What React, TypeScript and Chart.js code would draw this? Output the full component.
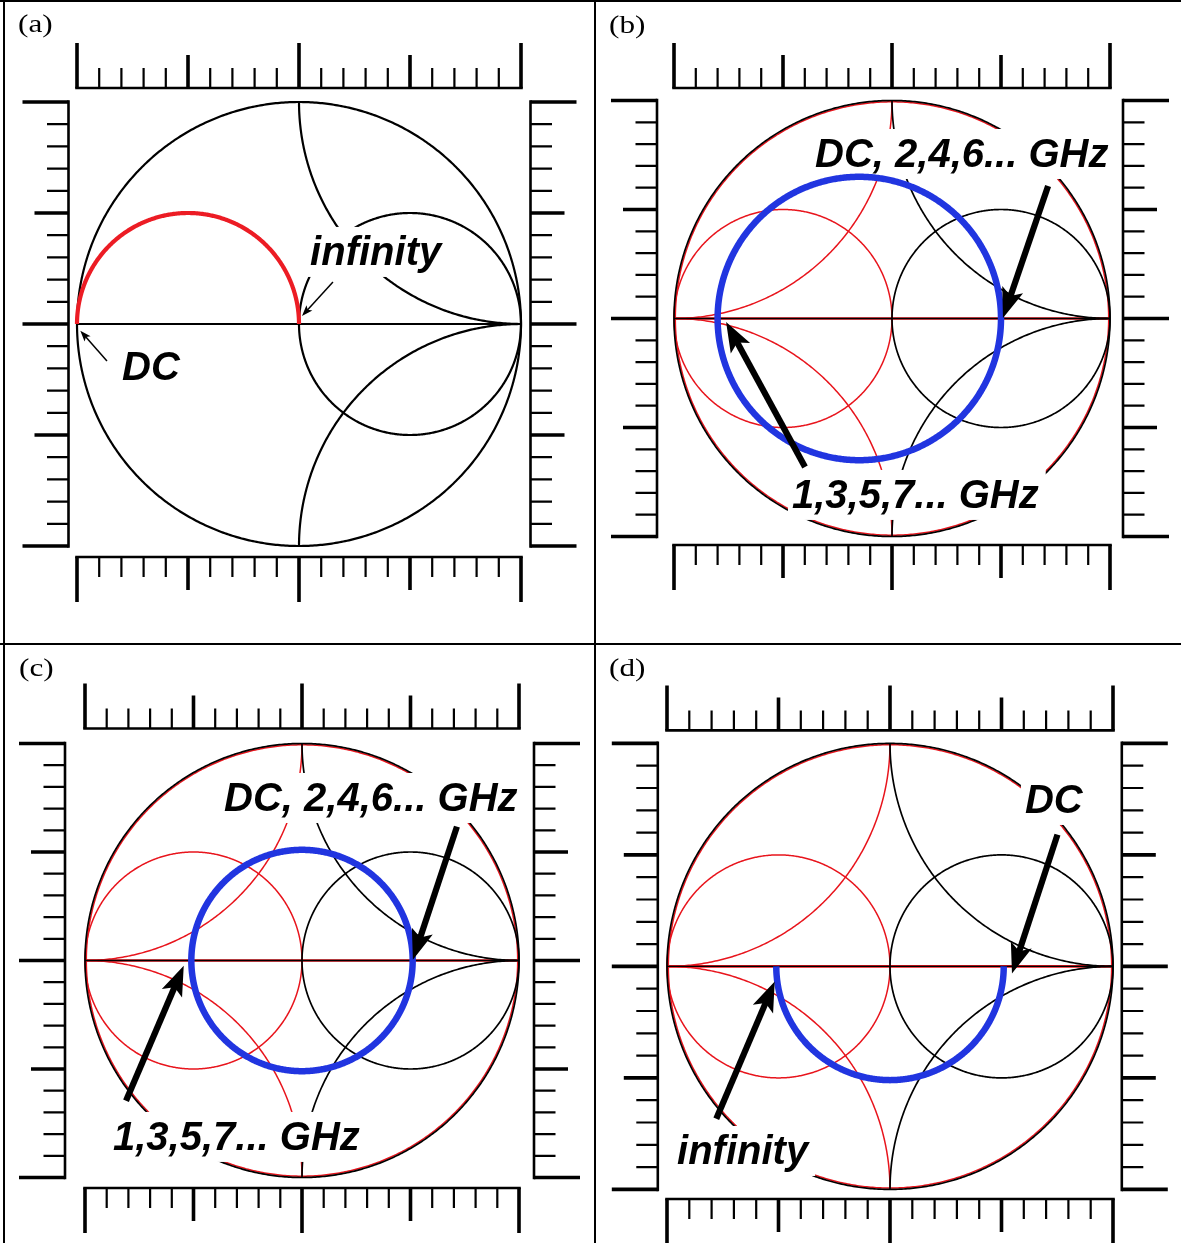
import React, { useEffect, useRef } from 'react';
import { Chart, registerables } from 'chart.js';

Chart.register(...registerables);

const PAGE_W = 1181;
const PAGE_H = 1243;

// Ruler tick values (reflection-coefficient units)
const TICK_VALUES = [-1, -0.9, -0.8, -0.7, -0.6, -0.5, -0.4, -0.3, -0.2, -0.1, 0, 0.1, 0.2, 0.3, 0.4, 0.5, 0.6, 0.7, 0.8, 0.9, 1];
const LONG_TICKS = [-1, 0, 1];
const MID_TICKS = [-0.5, 0.5];

// Smith chart circles: [centerX, centerY, radius, startDeg, endDeg]
const IMPEDANCE_GRID = [
  [0, 0, 1, 0, 360],
  [0.5, 0, 0.5, 0, 360],
  [1, 1, 1, 180, 270],
  [1, -1, 1, 90, 180],
];
const ADMITTANCE_GRID = [
  [0, 0, 0.994, 0, 360],
  [-0.5, 0, 0.5, 0, 360],
  [-1, 1, 1, 270, 360],
  [-1, -1, 1, 0, 90],
];
const REAL_AXIS = [-1, 1];

// Measured traces
const TRACE_A = [-0.5, 0, 0.5, 0, 180];
const TRACE_B = [-0.15, 0, 0.65, 0, 360];
const TRACE_C = [0, 0, 0.51, 0, 360];
const TRACE_D = [0, 0, 0.51, 180, 360];

// Annotation texts: [text, left x, baseline y]
const TEXT_A = [['DC', -0.797, -0.252], ['infinity', 0.05, 0.266]];
const TEXT_B = [['DC, 2,4,6... GHz', -0.353, 0.695], ['1,3,5,7... GHz', -0.459, -0.869]];
const TEXT_C = [['DC, 2,4,6... GHz', -0.359, 0.689], ['1,3,5,7... GHz', -0.871, -0.873]];
const TEXT_D = [['DC', 0.605, 0.688], ['infinity', -0.955, -0.886]];

// Arrows: [tailX, tailY, tipX, tipY]
const ARROWS_A = [[-0.865, -0.167, -0.985, -0.03], [0.153, 0.189, 0.0135, 0.036]];
const ARROWS_B = [[0.716, 0.608, 0.509, 0.002], [-0.399, -0.681, -0.761, -0.016]];
const ARROWS_C = [[0.714, 0.617, 0.511, 0.004], [-0.811, -0.646, -0.545, -0.024]];
const ARROWS_D = [[0.751, 0.591, 0.547, -0.032], [-0.779, -0.683, -0.517, -0.068]];

const PANEL_LABELS = ['(a)', '(b)', '(c)', '(d)'];

type Panel = {
  label: string;
  labelPos: [number, number];
  canvas: [number, number, number, number];
  center: [number, number];
  radius: number;
  gaps: { top: number; bottom: number; left: number; right: number };
  admittance: boolean;
  trace: number[];
  traceColor: string;
  traceWidth: number;
  texts: any[];
  arrows: number[][];
  thinArrows: boolean;
  gridWidth: number;
};

const PANELS: Panel[] = [
  {
    label: PANEL_LABELS[0], labelPos: [18, 32], canvas: [0, 0, 594, 643], center: [299, 324], radius: 222,
    gaps: { top: 14, bottom: 11, left: 8.5, right: 9.5 }, admittance: false, trace: TRACE_A,
    traceColor: '#ec1c24', traceWidth: 4.2, texts: TEXT_A, arrows: ARROWS_A, thinArrows: true, gridWidth: 2.2,
  },
  {
    label: PANEL_LABELS[1], labelPos: [609, 32.5], canvas: [596, 0, 585, 643], center: [892, 318.5], radius: 218,
    gaps: { top: 12.5, bottom: 8.5, left: 17, right: 13 }, admittance: true, trace: TRACE_B,
    traceColor: '#2135e0', traceWidth: 6.5, texts: TEXT_B, arrows: ARROWS_B, thinArrows: false, gridWidth: 1.7,
  },
  {
    label: PANEL_LABELS[2], labelPos: [19, 675.5], canvas: [0, 645, 594, 598], center: [302, 960.5], radius: 217,
    gaps: { top: 15, bottom: 10.5, left: 20, right: 15 }, admittance: true, trace: TRACE_C,
    traceColor: '#2135e0', traceWidth: 6.5, texts: TEXT_C, arrows: ARROWS_C, thinArrows: false, gridWidth: 1.7,
  },
  {
    label: PANEL_LABELS[3], labelPos: [609, 675.5], canvas: [596, 645, 585, 598], center: [890, 966.4], radius: 223,
    gaps: { top: 13, bottom: 9.6, left: 9.2, right: 8.8 }, admittance: true, trace: TRACE_D,
    traceColor: '#2135e0', traceWidth: 6.5, texts: TEXT_D, arrows: ARROWS_D, thinArrows: false, gridWidth: 1.7,
  },
];

function arcData(arc: number[]) {
  const [cx, cy, r, a0, a1] = arc;
  const pts: { x: number; y: number }[] = [];
  for (let d = a0; d <= a1 + 1e-9; d += 1) {
    const t = (d * Math.PI) / 180;
    pts.push({ x: cx + r * Math.cos(t), y: cy + r * Math.sin(t) });
  }
  return pts;
}

function drawArrow(ctx: CanvasRenderingContext2D, x1: number, y1: number, x2: number, y2: number, lw: number, hl: number, hw: number) {
  const a = Math.atan2(y2 - y1, x2 - x1);
  const ux = Math.cos(a), uy = Math.sin(a);
  const nx = -uy, ny = ux;
  ctx.lineWidth = lw;
  ctx.lineCap = 'butt';
  ctx.beginPath();
  ctx.moveTo(x1, y1);
  ctx.lineTo(x2 - hl * 0.7 * ux, y2 - hl * 0.7 * uy);
  ctx.stroke();
  const bx = x2 - hl * ux, by = y2 - hl * uy;
  ctx.beginPath();
  ctx.moveTo(x2, y2);
  ctx.lineTo(bx + (nx * hw) / 2, by + (ny * hw) / 2);
  ctx.lineTo(x2 - hl * 0.78 * ux, y2 - hl * 0.78 * uy);
  ctx.lineTo(bx - (nx * hw) / 2, by - (ny * hw) / 2);
  ctx.closePath();
  ctx.fill();
}

function makeDecor(p: Panel, traceIndex: number) {
  return {
    id: 'smithDecor',
    beforeDatasetDraw(chart: any, args: any) {
      if (args.index !== traceIndex) return;
      const ctx: CanvasRenderingContext2D = chart.ctx;
      const xs = chart.scales.x, ys = chart.scales.y;
      const X = (v: number) => xs.getPixelForValue(v);
      const Y = (v: number) => ys.getPixelForValue(v);
      const size = 40;
      ctx.save();
      ctx.font = `italic bold ${size}px "Liberation Sans", Arial, sans-serif`;
      ctx.textBaseline = 'alphabetic';
      ctx.textAlign = 'left';
      for (const [t, x, y] of p.texts) {
        const px = X(x), py = Y(y);
        const w = ctx.measureText(t).width;
        ctx.fillStyle = '#ffffff';
        ctx.fillRect(px - 4, py - 38, w + 11, 50);
        ctx.fillStyle = '#000000';
        ctx.fillText(t, px, py);
      }
      ctx.restore();
    },
    afterDatasetsDraw(chart: any) {
      const ctx: CanvasRenderingContext2D = chart.ctx;
      const xs = chart.scales.x, ys = chart.scales.y;
      const X = (v: number) => xs.getPixelForValue(v);
      const Y = (v: number) => ys.getPixelForValue(v);
      ctx.save();
      ctx.strokeStyle = '#000';
      ctx.fillStyle = '#000';
      for (const [x1, y1, x2, y2] of p.arrows) {
        if (p.thinArrows) drawArrow(ctx, X(x1), Y(y1), X(x2), Y(y2), 1.5, 11, 8);
        else drawArrow(ctx, X(x1), Y(y1), X(x2), Y(y2), 6.2, 30, 22);
      }
      ctx.restore();
    },
    afterDraw(chart: any) {
      const ctx: CanvasRenderingContext2D = chart.ctx;
      const xs = chart.scales.x, ys = chart.scales.y;
      const { left, right, top, bottom } = chart.chartArea;
      const X = (v: number) => xs.getPixelForValue(v);
      const Y = (v: number) => ys.getPixelForValue(v);
      ctx.save();
      ctx.strokeStyle = '#000';
      ctx.lineCap = 'butt';
      const lenH = (v: number) => (LONG_TICKS.includes(v) ? 45 : MID_TICKS.includes(v) ? 33 : 20);
      const lenV = (v: number) => (LONG_TICKS.includes(v) ? 46 : MID_TICKS.includes(v) ? 34 : 21.5);
      const lw = (v: number) => (LONG_TICKS.includes(v) || MID_TICKS.includes(v) ? 3.6 : 2.2);
      const yt = top - p.gaps.top;
      const yb = bottom + p.gaps.bottom;
      const xl = left - p.gaps.left;
      const xr = right + p.gaps.right;
      // baselines
      ctx.lineWidth = 2.6;
      ctx.beginPath();
      ctx.moveTo(X(-1) - 1.8, yt); ctx.lineTo(X(1) + 1.8, yt);
      ctx.moveTo(X(-1) - 1.8, yb); ctx.lineTo(X(1) + 1.8, yb);
      ctx.moveTo(xl, Y(1) - 1.8); ctx.lineTo(xl, Y(-1) + 1.8);
      ctx.moveTo(xr, Y(1) - 1.8); ctx.lineTo(xr, Y(-1) + 1.8);
      ctx.stroke();
      for (const v of TICK_VALUES) {
        ctx.lineWidth = lw(v);
        const px = X(v), py = Y(v);
        ctx.beginPath();
        ctx.moveTo(px, yt); ctx.lineTo(px, yt - lenH(v));
        ctx.moveTo(px, yb); ctx.lineTo(px, yb + lenH(v));
        ctx.moveTo(xl, py); ctx.lineTo(xl - lenV(v), py);
        ctx.moveTo(xr, py); ctx.lineTo(xr + lenV(v), py);
        ctx.stroke();
      }
      // panel label
      const lx = p.labelPos[0] - p.canvas[0];
      const ly = p.labelPos[1] - p.canvas[1];
      ctx.fillStyle = '#000';
      ctx.font = '26px "Liberation Serif", "Times New Roman", serif';
      ctx.textBaseline = 'alphabetic';
      ctx.translate(lx, ly);
      ctx.scale(1.2, 1);
      ctx.fillText(p.label, 0, 0);
      ctx.restore();
    },
  };
}

function PanelChart({ p }: { p: Panel }) {
  const ref = useRef<HTMLCanvasElement | null>(null);
  useEffect(() => {
    if (!ref.current) return;
    const [cxp, cyp, w, h] = p.canvas;
    const [ccx, ccy] = p.center;
    const R = p.radius;
    const padding = {
      left: ccx - R - cxp,
      top: ccy - R - cyp,
      right: cxp + w - (ccx + R),
      bottom: cyp + h - (ccy + R),
    };
    const layers: any[] = [];
    const line = (data: any[], color: string, width: number) => ({
      data, showLine: true, borderColor: color, backgroundColor: color, borderWidth: width,
      pointRadius: 0, pointHoverRadius: 0, fill: false, tension: 0.0001, clip: false,
      borderJoinStyle: 'round', borderCapStyle: 'butt',
    });
    if (p.admittance) {
      layers.push(line([{ x: REAL_AXIS[0], y: 0 }, { x: REAL_AXIS[1], y: 0 }], '#e8141c', 2.6));
      ADMITTANCE_GRID.forEach((arc) => layers.push(line(arcData(arc), '#e8141c', 1.5)));
    }
    IMPEDANCE_GRID.forEach((arc) => layers.push(line(arcData(arc), '#000000', p.gridWidth)));
    layers.push(line([{ x: REAL_AXIS[0], y: 0 }, { x: REAL_AXIS[1], y: 0 }], '#000000', p.admittance ? 1.3 : 2.2));
    layers.push(line(arcData(p.trace), p.traceColor, p.traceWidth));
    const n = layers.length;
    layers.forEach((ds, i) => (ds.order = n - i));
    const traceIndex = n - 1;

    const chart = new Chart(ref.current, {
      type: 'scatter',
      data: { datasets: layers },
      options: {
        responsive: false,
        maintainAspectRatio: false,
        animation: false,
        events: [],
        layout: { padding },
        scales: {
          x: { type: 'linear', min: -1, max: 1, display: false },
          y: { type: 'linear', min: -1, max: 1, display: false },
        },
        plugins: { legend: { display: false }, tooltip: { enabled: false } },
      },
      plugins: [makeDecor(p, traceIndex) as any],
    } as any);
    return () => chart.destroy();
  }, [p]);
  const [x, y, w, h] = p.canvas;
  return (
    <canvas
      ref={ref}
      width={w}
      height={h}
      style={{ position: 'absolute', left: x, top: y, width: w, height: h }}
    />
  );
}

export default function App() {
  useEffect(() => {
    document.body.style.margin = '0';
    document.body.style.background = '#ffffff';
  }, []);
  const bar = (style: React.CSSProperties) => (
    <div style={{ position: 'absolute', background: '#000', ...style }} />
  );
  return (
    <div style={{ position: 'relative', width: PAGE_W, height: PAGE_H, overflow: 'hidden', background: '#fff' }}>
      {PANELS.map((p) => (
        <PanelChart key={p.label} p={p} />
      ))}
      {bar({ left: 0, top: 0, width: PAGE_W, height: 2 })}
      {bar({ left: 3, top: 0, width: 2, height: PAGE_H })}
      {bar({ left: 594, top: 0, width: 2, height: PAGE_H })}
      {bar({ left: 0, top: 643, width: PAGE_W, height: 2 })}
    </div>
  );
}
